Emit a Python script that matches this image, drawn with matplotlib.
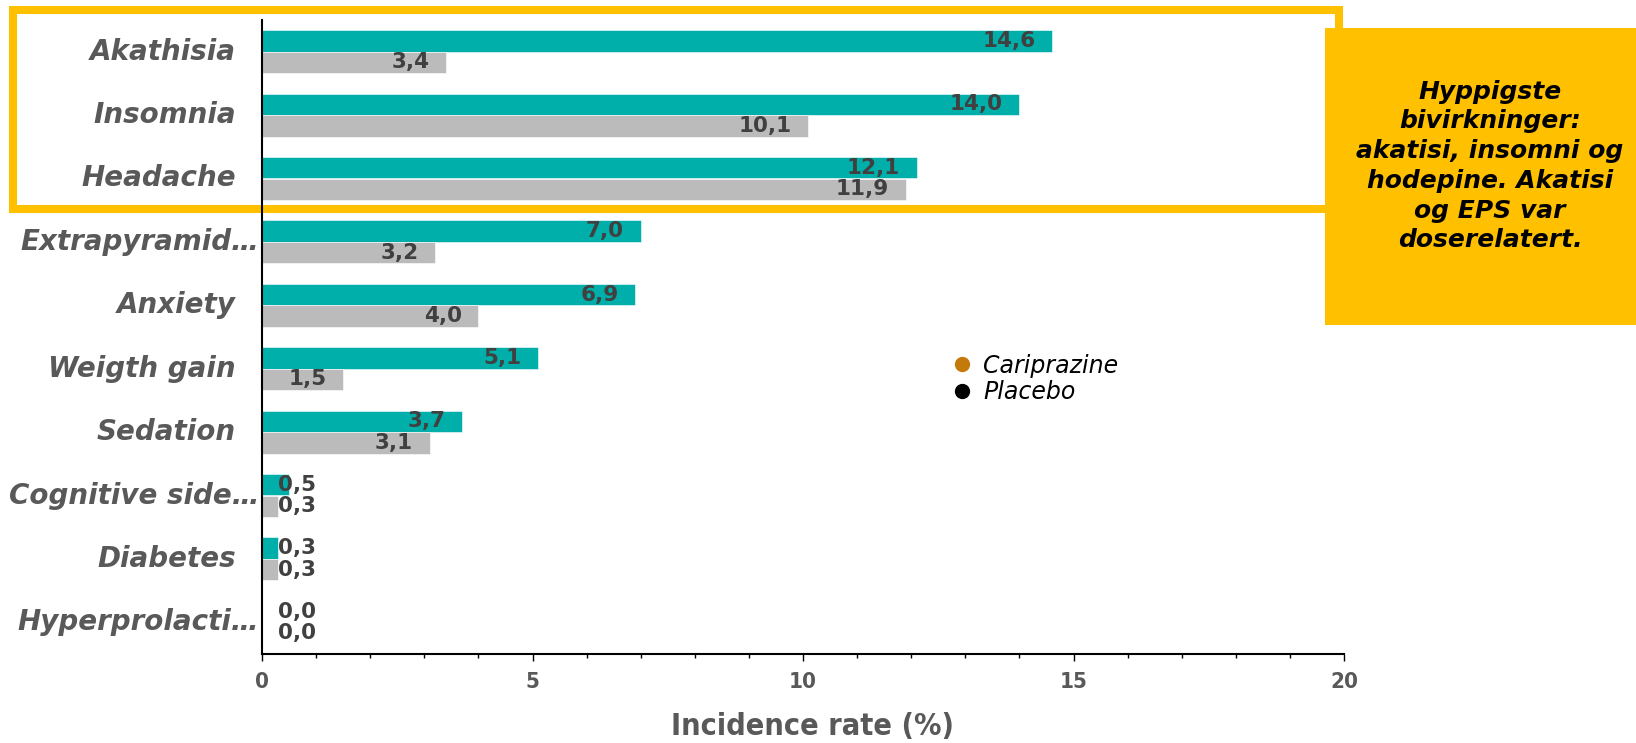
import matplotlib
matplotlib.use("Agg")
import matplotlib.pyplot as plt
from matplotlib.patches import Rectangle
from matplotlib.lines import Line2D
from matplotlib.ticker import MultipleLocator

# bivirkninger, cariprazin vs placebo (%)
kategorier = ["Akathisia", "Insomnia", "Headache", "Extrapyramid\u2026", "Anxiety",
              "Weigth gain", "Sedation", "Cognitive side\u2026", "Diabetes", "Hyperprolacti\u2026"]
cariprazine = [14.6, 14.0, 12.1, 7.0, 6.9, 5.1, 3.7, 0.5, 0.3, 0.0]
placebo = [3.4, 10.1, 11.9, 3.2, 4.0, 1.5, 3.1, 0.3, 0.3, 0.0]

teal = "#00AFA9"
gra = "#BBBBBB"
gul = "#FFC000"
tekst_gra = "#595959"
verdi_farge = "#404040"

fig = plt.figure(figsize=(16.36, 7.43), dpi=100)
ax = fig.add_axes([262 / 1636, 89 / 743, 1082 / 1636, 634 / 743])
ax.set_facecolor("none")
ax.set_zorder(2)

y = list(range(len(kategorier)))
h = 0.34
ax.barh([i - h / 2 for i in y], cariprazine, height=h, color=teal, edgecolor="white", linewidth=0.4)
ax.barh([i + h / 2 for i in y], placebo, height=h, color=gra, edgecolor="white", linewidth=0.4)

def etikett(v, ypos):
    txt = f"{v:.1f}".replace(".", ",")
    if v < 1.0:
        ax.annotate(txt, (0, ypos), xytext=(11.5, 0), textcoords="offset points",
                    ha="left", va="center", fontsize=15.5, fontweight="bold", color=verdi_farge)
    else:
        ax.annotate(txt, (v, ypos), xytext=(-12, 0), textcoords="offset points",
                    ha="right", va="center", fontsize=15.5, fontweight="bold", color=verdi_farge)

for i in y:
    etikett(cariprazine[i], i - h / 2)
    etikett(placebo[i], i + h / 2)

ax.set_xlim(0, 20)
ax.set_ylim(len(kategorier) - 0.5, -0.5)
ax.set_yticks([])

# kategorinavn; avkortede navn går helt inn til aksen
for i, navn in enumerate(kategorier):
    dx = -2 if navn.endswith("\u2026") else -19
    ax.annotate(navn, (0, i), xycoords=("axes fraction", "data"), xytext=(dx, 0),
                textcoords="offset points", ha="right", va="center", fontsize=20,
                fontweight="bold", fontstyle="italic", color=tekst_gra, annotation_clip=False)

ax.xaxis.set_major_locator(MultipleLocator(5))
ax.xaxis.set_minor_locator(MultipleLocator(1))
ax.tick_params(axis="x", which="major", length=5, width=1, pad=8)
ax.tick_params(axis="x", which="minor", length=3, width=1)
for lab in ax.get_xticklabels():
    lab.set_fontsize(16)
    lab.set_fontweight("bold")
    lab.set_fontstretch("condensed")
    lab.set_color(tekst_gra)

ax.set_xlabel("Incidence rate (%)", fontsize=22, fontweight="bold",
              fontstretch="condensed", color=tekst_gra, va="center")
ax.xaxis.set_label_coords(0.509, -0.1151)

for side in ["top", "right"]:
    ax.spines[side].set_visible(False)
ax.spines["left"].set_linewidth(1.5)
ax.spines["bottom"].set_linewidth(1.5)

handles = [Line2D([], [], marker="o", linestyle="none", color="#C47A0B", markersize=10),
           Line2D([], [], marker="o", linestyle="none", color="black", markersize=10)]
fig.legend(handles, ["Cariprazine", "Placebo"], loc="center left",
           bbox_to_anchor=(929 / 1636, 1 - 379 / 743), frameon=False,
           prop={"size": 17, "style": "italic"}, handletextpad=0.4,
           labelspacing=0.12, handlelength=1.0)

# ramme rundt de tre hyppigste
fig.patches.append(Rectangle((13 / 1636, 1 - 209 / 743), 1326 / 1636, 199 / 743,
                             transform=fig.transFigure, fill=False, edgecolor=gul,
                             linewidth=5.8, zorder=0.5))
fig.patches.append(Rectangle((1325 / 1636, 1 - 325 / 743), 311 / 1636, 297 / 743,
                             transform=fig.transFigure, facecolor=gul, edgecolor="none",
                             zorder=3))
fig.text(1490 / 1636, 1 - 166 / 743,
         "Hyppigste\nbivirkninger:\nakatisi, insomni og\nhodepine. Akatisi\nog EPS var\ndoserelatert.",
         ha="center", va="center", fontsize=18, fontweight="bold", fontstyle="italic",
         color="black", linespacing=1.3, zorder=4)

fig.savefig("out.png", dpi=100)
